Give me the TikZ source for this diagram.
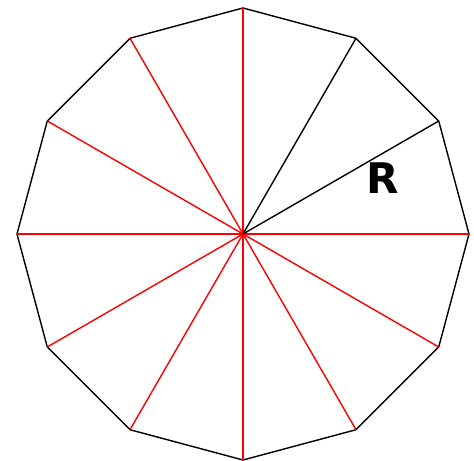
\documentclass[tikz,border=0pt]{standalone}
\usepackage{fontspec}
\setmainfont{DejaVu Sans}
\usetikzlibrary{positioning}
\tikzset{
  lado/.style={draw=black, line width=0.8pt, line join=miter},
  radioRojo/.style={draw=red, line width=0.8pt},
  radioNegro/.style={draw=black, line width=0.8pt},
  etiquetaRadio/.style={font=\fontsize{24}{24}\selectfont\bfseries, inner sep=0pt},
}

\begin{document}
\begin{tikzpicture}
    \useasboundingbox (-4.86,-4.54) rectangle (4.62,4.68);
    \coordinate (c) at (0,0);
    % vertices del dodecagono
    \foreach \i in {0,...,11}
      \coordinate (v\i) at (\i*30:4.52);
    \draw[lado] (v0) \foreach \i in {1,...,11} {-- (v\i)} -- cycle;
    % radios
    \foreach \i in {0,3,4,5,6,7,8,9,10,11}
      \draw[radioRojo] (c) -- (v\i);
    \draw[radioNegro] (c) -- (v1);
    \draw[radioNegro] (c) -- (v2);
    \node[etiquetaRadio] (r) at (2.8,1.12) {R};
\end{tikzpicture}
\end{document}
